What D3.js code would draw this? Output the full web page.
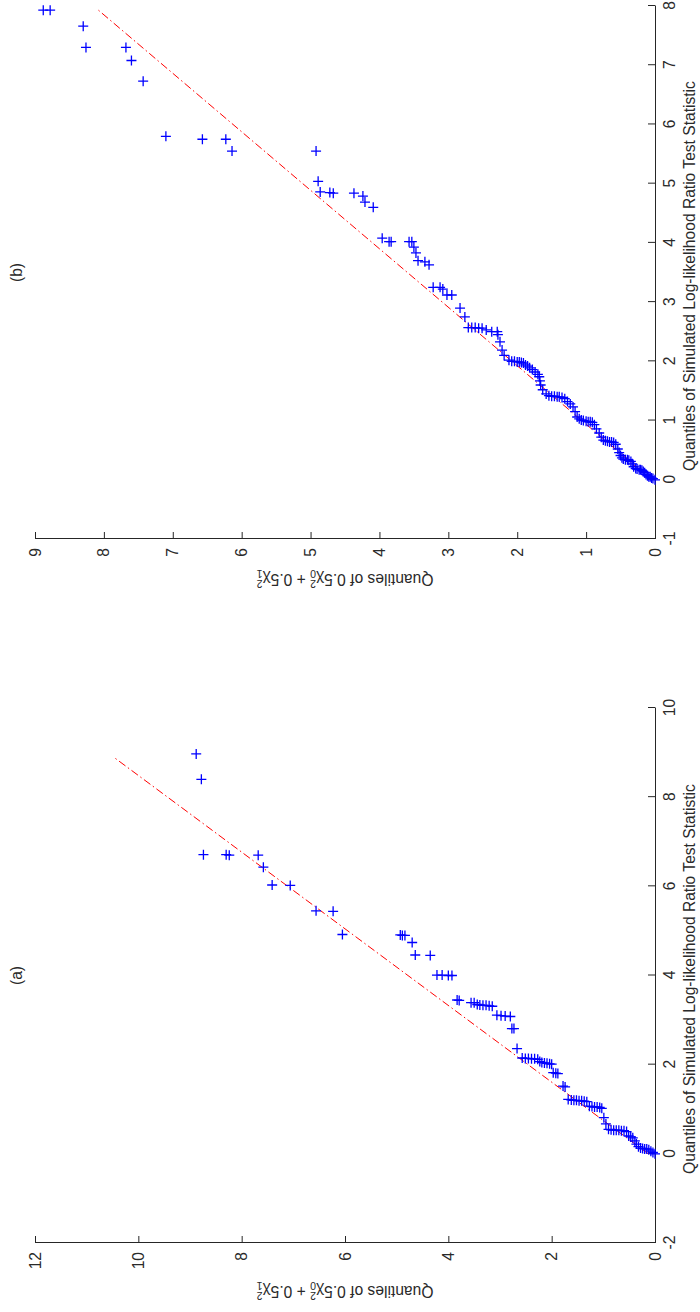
<!DOCTYPE html>
<html>
<head>
<meta charset="utf-8">
<script src="https://cdn.jsdelivr.net/npm/d3@7"></script>
<style>
  html, body { margin: 0; padding: 0; background: #fff; }
  svg { display: block; }
  text { font-family: "Liberation Sans", Arial, Helvetica, sans-serif; fill: #2a2a2a; }
</style>
</head>
<body>
<svg id="fig" width="700" height="1312"></svg>
<script>
// ---- Panel (a): sorted quantile pairs ----
// simulated LRT statistic quantiles
const simA = [0.00, 0.03, 0.06, 0.09, 0.11, 0.11, 0.12, 0.13, 0.16, 0.22, 0.29, 0.36, 0.38, 0.40,
  0.50, 0.52, 0.52, 0.53, 0.53, 0.53, 0.54, 0.55, 0.67, 0.81, 1.02,
  1.04, 1.05, 1.05, 1.06, 1.07, 1.17,
  1.18, 1.19, 1.19, 1.20, 1.20, 1.21, 1.22, 1.50, 1.52, 1.80, 1.81, 1.82,
  2.01, 2.02, 2.03, 2.04, 2.05, 2.07,
  2.12, 2.13, 2.13, 2.14, 2.14, 2.15, 2.36, 2.81, 2.81,
  3.08, 3.09, 3.10, 3.11,
  3.31, 3.32, 3.33, 3.33, 3.34, 3.35, 3.39, 3.39, 3.44, 3.45,
  4.00, 4.00, 4.01, 4.01, 4.45, 4.46, 4.74, 4.90, 4.90, 4.91, 4.92,
  5.44, 5.45, 6.02, 6.03, 6.43, 6.70, 6.70, 6.71, 6.71, 8.40, 8.97];
// matching quantiles of 0.5*chi2_0 + 0.5*chi2_1
const refA = [0.00, 0.04, 0.08, 0.12, 0.16, 0.20, 0.24, 0.28, 0.32, 0.36, 0.39, 0.43, 0.47, 0.51,
  0.55, 0.60, 0.65, 0.70, 0.75, 0.80, 0.85, 0.90, 0.95, 0.99, 1.03,
  1.07, 1.12, 1.17, 1.22, 1.27, 1.32,
  1.37, 1.42, 1.47, 1.52, 1.57, 1.62, 1.68, 1.74, 1.78, 1.88, 1.92, 1.97,
  2.00, 2.04, 2.09, 2.14, 2.19, 2.23,
  2.27, 2.33, 2.39, 2.45, 2.51, 2.57, 2.67, 2.73, 2.77,
  2.80, 2.90, 2.98, 3.06,
  3.15, 3.21, 3.27, 3.33, 3.39, 3.44, 3.50, 3.56, 3.79, 3.83,
  3.93, 4.00, 4.12, 4.22, 4.35, 4.64, 4.70, 4.84, 4.89, 4.93, 6.05,
  6.23, 6.56, 7.06, 7.41, 7.58, 7.68, 8.24, 8.30, 8.74, 8.78, 8.88];
const lineSimA = [0.00, 8.90];
const lineRefA = [0.13, 10.48];
const ticksSimA = [-2, 0, 2, 4, 6, 8, 10];
const ticksRefA = [0, 2, 4, 6, 8, 10, 12];

// ---- Panel (b): sorted quantile pairs ----
const simB = [0.00, 0.02, 0.03, 0.05, 0.05, 0.07, 0.09, 0.12, 0.14, 0.16, 0.17, 0.17, 0.18, 0.19,
  0.22, 0.27, 0.31, 0.33, 0.34, 0.34, 0.35, 0.37, 0.41, 0.46, 0.52, 0.60, 0.63, 0.64, 0.64,
  0.65, 0.66, 0.67, 0.72, 0.79, 0.86, 0.93, 0.97, 0.98, 0.98, 0.99, 1.00, 1.01, 1.03, 1.06,
  1.15, 1.23, 1.28, 1.32, 1.37, 1.39, 1.40, 1.40, 1.41, 1.41, 1.42, 1.45, 1.52, 1.60, 1.67,
  1.74, 1.78, 1.82, 1.86, 1.89, 1.92, 1.94, 1.97, 1.98, 1.99, 1.99, 2.00, 2.00, 2.02,
  2.10, 2.19, 2.33, 2.45, 2.50, 2.50, 2.53, 2.56, 2.56, 2.57, 2.57, 2.57, 2.75, 2.90,
  3.12, 3.12, 3.22, 3.25, 3.25, 3.63, 3.68, 3.70, 3.83, 3.93, 4.02, 4.02, 4.02, 4.02, 4.08,
  4.60, 4.69, 4.79, 4.84, 4.84, 4.85, 4.86, 5.04, 5.55, 5.55, 5.75, 5.75, 5.80,
  6.73, 7.08, 7.30, 7.30, 7.66, 7.93, 7.93];
const refB = [0.00, 0.03, 0.05, 0.07, 0.09, 0.11, 0.13, 0.15, 0.17, 0.19, 0.21, 0.23, 0.26, 0.28,
  0.31, 0.33, 0.35, 0.38, 0.40, 0.43, 0.46, 0.48, 0.50, 0.52, 0.54, 0.57, 0.60, 0.63, 0.66,
  0.69, 0.72, 0.75, 0.78, 0.81, 0.85, 0.88, 0.91, 0.94, 0.97, 1.00, 1.04, 1.07, 1.10, 1.13,
  1.16, 1.19, 1.23, 1.27, 1.31, 1.35, 1.39, 1.42, 1.46, 1.50, 1.54, 1.58, 1.63, 1.66, 1.67,
  1.68, 1.70, 1.74, 1.78, 1.82, 1.85, 1.88, 1.91, 1.94, 1.97, 2.00, 2.04, 2.08, 2.12,
  2.19, 2.22, 2.25, 2.28, 2.29, 2.37, 2.45, 2.51, 2.56, 2.61, 2.66, 2.71, 2.76, 2.83,
  2.95, 3.02, 3.08, 3.12, 3.22, 3.28, 3.34, 3.44, 3.47, 3.50, 3.53, 3.57, 3.83, 3.86, 3.96,
  4.09, 4.21, 4.24, 4.37, 4.67, 4.72, 4.86, 4.89, 4.92, 6.14, 6.23, 6.57, 7.10,
  7.43, 7.60, 7.68, 8.26, 8.30, 8.78, 8.88];
const lineSimB = [0.00, 7.93];
const lineRefB = [0.05, 8.08];
const ticksSimB = [-1, 0, 1, 2, 3, 4, 5, 6, 7, 8];
const ticksRefB = [0, 1, 2, 3, 4, 5, 6, 7, 8, 9];

// The figure is laid out landscape (W x H) and then turned a quarter turn
// counter-clockwise onto the portrait page.
const W = 1312, H = 700;
const root = d3.select('#fig').append('g')
  .attr('transform', `translate(0,${W}) rotate(-90)`);

const FONT = 15.6;

function drawPanel(opt) {
  const g = root.append('g');
  const x = d3.scaleLinear().domain(opt.simDomain).range(opt.xRange);
  const y = d3.scaleLinear().domain(opt.refDomain).range([655, 35]);

  const fmt = d => String(d);

  // x axis (simulated quantiles), ticks pointing into the plot
  const gx = g.append('g').attr('transform', `translate(0,${y.range()[0]})`)
    .call(d3.axisBottom(x).tickValues(opt.simTicks).tickFormat(fmt)
      .tickSizeInner(-7).tickSizeOuter(0).tickPadding(9));
  // y axis (reference distribution quantiles)
  const gy = g.append('g').attr('transform', `translate(${x.range()[0]},0)`)
    .call(d3.axisLeft(y).tickValues(opt.refTicks).tickFormat(fmt)
      .tickSizeInner(-7).tickSizeOuter(0).tickPadding(9));
  [gx, gy].forEach(a => {
    a.selectAll('path.domain').attr('stroke', '#262626').attr('stroke-width', 1);
    a.selectAll('.tick line').attr('stroke', '#262626').attr('stroke-width', 1);
    a.selectAll('.tick text').style('font-size', FONT + 'px')
      .style('font-family', '"Liberation Sans", Arial, sans-serif').attr('fill', '#2a2a2a');
  });

  // reference line
  const pts = opt.lineSim.map((s, i) => [s, opt.lineRef[i]]);
  g.append('path')
    .attr('d', d3.line().x(d => x(d[0])).y(d => y(d[1]))(pts))
    .attr('fill', 'none').attr('stroke', '#ff0000').attr('stroke-width', 1)
    .attr('stroke-dasharray', '8,3,1.5,3');

  // data markers
  const data = opt.sim.map((s, i) => [s, opt.ref[i]]);
  g.append('g').selectAll('path').data(data).join('path')
    .attr('transform', d => `translate(${x(d[0])},${y(d[1])})`)
    .attr('d', 'M-5,0H5M0,-5V5')
    .attr('stroke', '#0000ff').attr('stroke-width', 1.3).attr('fill', 'none');

  const midX = (x.range()[0] + x.range()[1]) / 2;
  const midY = (y.range()[0] + y.range()[1]) / 2;

  // x label
  g.append('text').attr('x', midX - 3.5).attr('y', 695)
    .attr('text-anchor', 'middle').style('font-size', FONT + 'px')
    .text('Quantiles of Simulated Log-likelihood Ratio Test Statistic');

  // y label with stacked sub/superscripts
  const yl = g.append('text')
    .attr('transform', `translate(${opt.yLabelX},${midY}) rotate(-90)`)
    .attr('text-anchor', 'middle').style('font-size', FONT + 'px');
  yl.append('tspan').text('Quantiles of 0.5\u03C7');
  yl.append('tspan').attr('dy', 4).style('font-size', '10.5px').text('0');
  yl.append('tspan').attr('dx', -5.8).attr('dy', -10).style('font-size', '10.5px').text('2');
  yl.append('tspan').attr('dy', 6).text(' + 0.5\u03C7');
  yl.append('tspan').attr('dy', 4).style('font-size', '10.5px').text('1');
  yl.append('tspan').attr('dx', -5.8).attr('dy', -10).style('font-size', '10.5px').text('2');

  // panel title
  g.append('text').attr('x', midX).attr('y', 22)
    .attr('text-anchor', 'middle').style('font-size', FONT + 'px')
    .text(opt.title);
}

drawPanel({
  title: '(a)', sim: simA, ref: refA, lineSim: lineSimA, lineRef: lineRefA,
  simDomain: [-2, 10], refDomain: [0, 12], xRange: [69, 604],
  simTicks: ticksSimA, refTicks: ticksRefA, yLabelX: 26
});
drawPanel({
  title: '(b)', sim: simB, ref: refB, lineSim: lineSimB, lineRef: lineRefB,
  simDomain: [-1, 8], refDomain: [0, 9], xRange: [773, 1306],
  simTicks: ticksSimB, refTicks: ticksRefB, yLabelX: 738
});
</script>
</body>
</html>
